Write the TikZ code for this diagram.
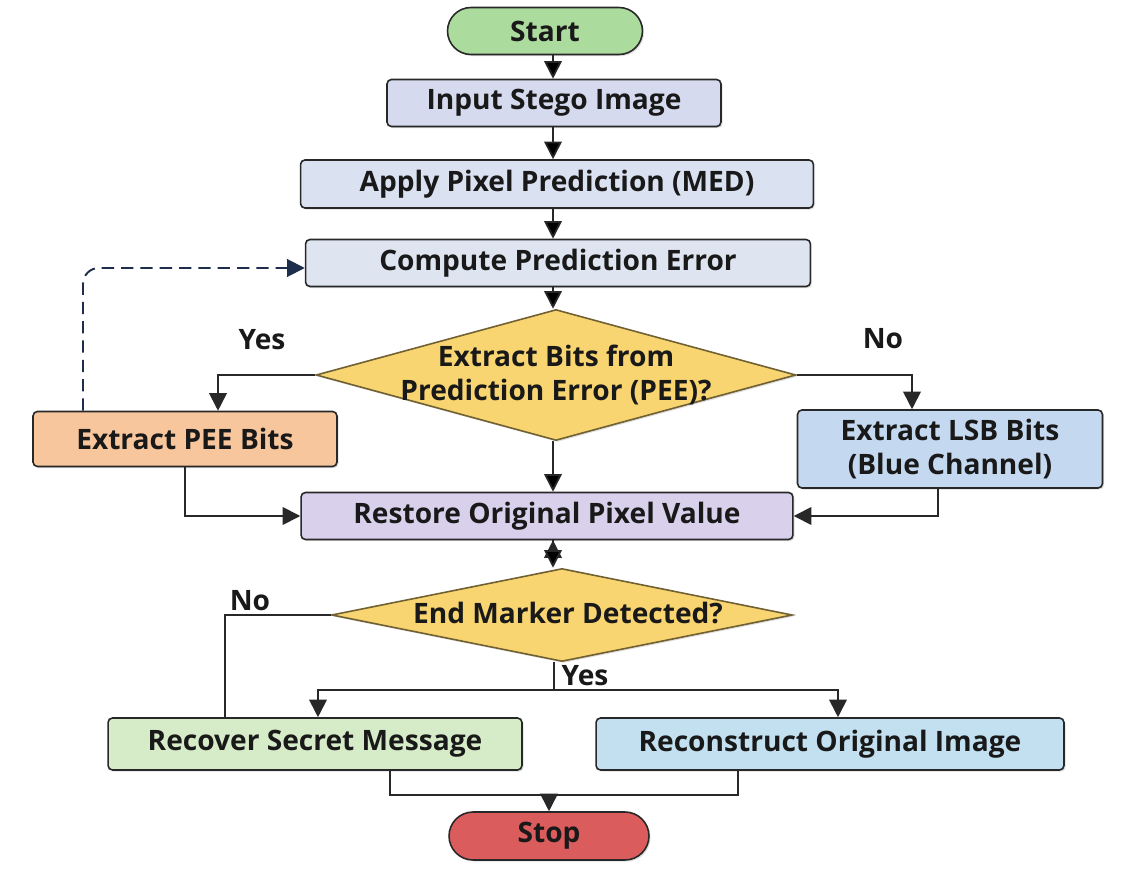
\documentclass[tikz,border=0pt]{standalone}
\usepackage{fontspec}
\setmainfont{Open Sans}
\usepackage{tikz}
\usetikzlibrary{arrows.meta,shapes.geometric,shadows}

\definecolor{startgreen}{RGB}{172,219,158}
\definecolor{inputblue}{RGB}{214,218,238}
\definecolor{applyblue}{RGB}{218,225,241}
\definecolor{computeblue}{RGB}{222,229,241}
\definecolor{decyellow}{RGB}{248,213,112}
\definecolor{peeorange}{RGB}{248,198,156}
\definecolor{lsbblue}{RGB}{196,216,240}
\definecolor{restorepurple}{RGB}{217,209,236}
\definecolor{recovergreen}{RGB}{214,235,199}
\definecolor{reconblue}{RGB}{194,224,239}
\definecolor{stopred}{RGB}{218,92,92}
\definecolor{linegray}{RGB}{40,40,40}
\definecolor{dashnavy}{RGB}{30,45,75}

\tikzset{
	base/.style={draw=linegray, line width=0.9pt, text=black!90, font=\fontsize{16}{19}\selectfont\bfseries,
		drop shadow={shadow xshift=0.9pt, shadow yshift=-0.9pt, opacity=0.25}},
	procbox/.style={base, rectangle, rounded corners=2.5pt, minimum height=0.94cm, align=center},
	terminal/.style={base, rectangle, rounded corners=0.47cm, minimum width=3.9cm, minimum height=0.94cm},
	decision/.style={base, diamond, inner sep=0pt, fill=decyellow, draw=decyellow!45!black},
	dectext/.style={font=\fontsize{16}{19}\selectfont\bfseries, align=center, text=black!90},
	answer/.style={font=\fontsize{16}{19}\selectfont\bfseries, text=black!90},
	arr/.style={draw=linegray, line width=1pt, -{Triangle[length=10pt,width=10pt]}},
	plain/.style={draw=linegray, line width=1pt}
}

\begin{document}
\begin{tikzpicture}[x=0.02cm, y=-0.02cm]
			\useasboundingbox[fill=white] (0,0) rectangle (1130,882);

			\node[terminal, fill=startgreen] (start) at (545,31) {Start};
			\node[procbox, fill=inputblue, minimum width=6.68cm] (input) at (554,103) {Input Stego Image};
			\node[procbox, fill=applyblue, minimum width=10.26cm, minimum height=0.96cm] (apply) at (557,184) {Apply Pixel Prediction (MED)};
			\node[procbox, fill=computeblue, minimum width=10.1cm] (compute) at (558,263) {Compute Prediction Error};
			\node[decision, minimum width=9.6cm, minimum height=2.62cm] (pee?) at (556,375) {};
			\node[dectext] (pee?text) at (pee?) {Extract Bits from\\Prediction Error (PEE)?};
			\node[procbox, fill=peeorange, minimum width=6.08cm, minimum height=1.1cm] (pee) at (185,439) {Extract PEE Bits};
			\node[procbox, fill=lsbblue, minimum width=6.1cm, minimum height=1.56cm] (lsb) at (950,449) {Extract LSB Bits\\(Blue Channel)};
			\node[procbox, fill=restorepurple, minimum width=9.84cm] (restore) at (547,516) {Restore Original Pixel Value};
			\node[decision, minimum width=9.22cm, minimum height=1.86cm] (end?) at (562,615) {};
			\node[dectext] (end?text) at (568,613) {End Marker Detected?};
			\node[procbox, fill=recovergreen, minimum width=8.28cm, minimum height=1.04cm] (recover) at (315,744) {Recover Secret Message};
			\node[procbox, fill=reconblue, minimum width=9.36cm, minimum height=1.04cm] (recon) at (830,744) {Reconstruct Original Image};
			\node[terminal, fill=stopred, minimum width=4cm, minimum height=0.96cm, rounded corners=0.48cm] (stop) at (549,836) {Stop};

			\node[answer] (yes1) at (262,340) {Yes};
			\node[answer] (no1) at (883,339) {No};
			\node[answer] (no2) at (250,601) {No};
			\node[answer] (yes2) at (585,676) {Yes};

			\coordinate (split) at (554,690);
			\coordinate (merge) at (549,795);

			\path[arr]
			(start.south -| 553,0) edge (input.north -| 553,0)
			(input.south -| 553,0) edge (apply.north -| 553,0)
			(apply.south -| 553,0) edge (compute.north -| 553,0)
			(compute.south -| 553,0) edge (pee?.north -| 553,0)
			(pee?.south -| 553,0) edge (restore.north -| 553,0)
			(restore.south -| 553,0) edge (end?.north -| 553,0);

			\draw[arr] (pee?.west) -| ([xshift=0.66cm]pee.north);
			\draw[arr] (pee?.east) -| ([xshift=-0.76cm]lsb.north);
			\draw[arr] (pee.south) |- (restore.west);
			\draw[arr] ([xshift=-0.24cm]lsb.south) |- (restore.east);
			\draw[arr, draw=dashnavy, line width=1.1pt, dash pattern=on 7pt off 4pt, rounded corners=9pt] ([xshift=-2.04cm]pee.north) |- ([yshift=-0.1cm]compute.west);

			\draw[plain] (end?.west) -| ([xshift=-1.8cm]recover.north);
			\draw[plain] (end?.south -| split) -- (split);
			\draw[arr] (split) -| ([xshift=0.06cm]recover.north);
			\draw[arr] (split) -| ([xshift=0.16cm]recon.north);
			\draw[plain] ([xshift=1.5cm]recover.south) |- (merge) -| ([xshift=-1.84cm]recon.south);
			\draw[arr] (merge) -- (stop);
		\end{tikzpicture}
\end{document}
